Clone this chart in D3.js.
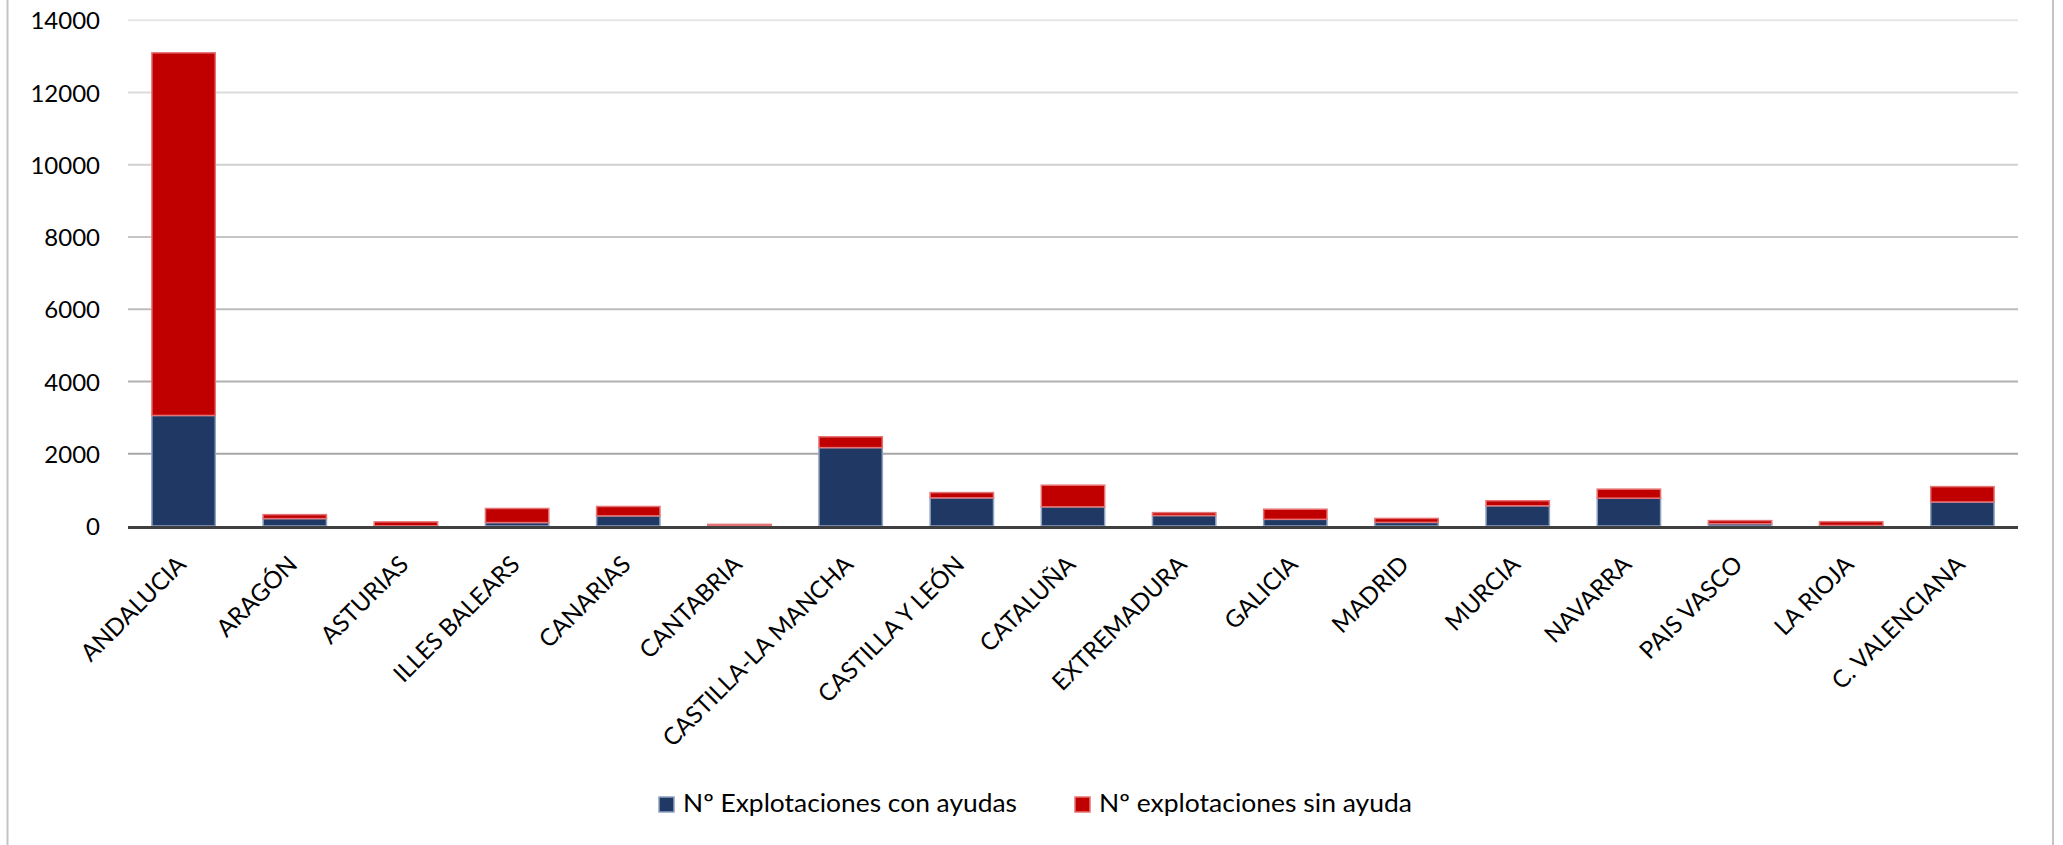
<!DOCTYPE html>
<html>
<head>
<meta charset="utf-8">
<script src="https://cdn.jsdelivr.net/npm/d3@7"></script>
<style>
  html, body { margin: 0; padding: 0; background: #fff; }
  svg { display: block; }
  text { font-family: Lato, "Open Sans", sans-serif; fill: #000; }
</style>
</head>
<body>
<svg id="chart" width="2063" height="845"></svg>
<script>
const categories = ["ANDALUCIA","ARAGÓN","ASTURIAS","ILLES BALEARS","CANARIAS","CANTABRIA","CASTILLA-LA MANCHA","CASTILLA Y LEÓN","CATALUÑA","EXTREMADURA","GALICIA","MADRID","MURCIA","NAVARRA","PAIS VASCO","LA RIOJA","C. VALENCIANA"];
const conAyudas = [3060, 205, 5, 95, 280, 10, 2170, 780, 530, 290, 185, 100, 560, 770, 65, 15, 665];
const sinAyuda  = [10040, 110, 110, 390, 260, 35, 300, 145, 600, 80, 280, 110, 140, 250, 85, 105, 425];
const seriesNames = ["Nº Explotaciones con ayudas", "Nº explotaciones sin ayuda"];
const yTicks = [0, 2000, 4000, 6000, 8000, 10000, 12000, 14000];

const W = 2063, H = 845;
const plot = { left: 128, right: 2018, top: 20.3, bottom: 526 };
const svg = d3.select("#chart");

svg.append("rect").attr("width", W).attr("height", H).attr("fill", "#fff");
// outer frame
svg.append("line").attr("x1", 7.5).attr("x2", 7.5).attr("y1", 0).attr("y2", H).attr("stroke", "#c4c4c4").attr("stroke-width", 2);
svg.append("line").attr("x1", 2053).attr("x2", 2053).attr("y1", 0).attr("y2", H).attr("stroke", "#c4c4c4").attr("stroke-width", 2);

const x = d3.scaleBand().domain(categories).range([plot.left, plot.right]).paddingInner(0.43).paddingOuter(0.215);
const y = d3.scaleLinear().domain([0, 14000]).range([plot.bottom, plot.top]);
const gridColor = d3.scaleLinear().domain([0, 14000]).range(["#9c9c9c", "#e6e6e6"]);

// gridlines
svg.append("g").selectAll("line").data(yTicks.filter(d => d > 0)).join("line")
  .attr("x1", plot.left).attr("x2", plot.right)
  .attr("y1", d => y(d)).attr("y2", d => y(d))
  .attr("stroke", d => gridColor(d)).attr("stroke-width", 2);

// y axis labels
const yAxis = d3.axisLeft(y).tickValues(yTicks).tickSize(0).tickPadding(0).tickFormat(d3.format("d"));
const gy = svg.append("g").attr("transform", `translate(100,0)`).call(yAxis);
gy.select(".domain").remove();
gy.selectAll("text").attr("font-size", 24).attr("font-family", "Lato, 'Open Sans', sans-serif").attr("fill", "#000").attr("dy", "0.36em");

// stacked bars
const rows = categories.map((c, i) => ({ cat: c, con: conAyudas[i], sin: sinAyuda[i] }));
const stack = d3.stack().keys(["con", "sin"])(rows);
const fills = ["#203864", "#c00000"];
const strokes = ["#8ea2c0", "#e57373"];

svg.append("g").selectAll("g").data(stack).join("g")
  .attr("fill", (d, i) => fills[i]).attr("stroke", (d, i) => strokes[i]).attr("stroke-width", 1.5)
  .selectAll("rect").data(d => d).join("rect")
  .attr("x", d => x(d.data.cat))
  .attr("width", x.bandwidth())
  .attr("y", d => y(d[1]))
  .attr("height", d => Math.max(0, y(d[0]) - y(d[1])));

// baseline axis
svg.append("line").attr("x1", plot.left).attr("x2", plot.right)
  .attr("y1", plot.bottom + 1.5).attr("y2", plot.bottom + 1.5)
  .attr("stroke", "#404040").attr("stroke-width", 3.2);

// category labels
svg.append("g").selectAll("text").data(categories).join("text")
  .attr("transform", d => `translate(${x(d) + x.bandwidth() / 2 + 4},566) rotate(-45)`)
  .attr("text-anchor", "end")
  .attr("font-size", 24)
  .text(d => d);

// legend
const legendItems = [{ x: 659, name: seriesNames[0], w: 334 }, { x: 1075, name: seriesNames[1], w: 313 }];
const lg = svg.append("g").selectAll("g").data(legendItems).join("g");
lg.append("rect").attr("x", d => d.x).attr("y", 797).attr("width", 15).attr("height", 15)
  .attr("fill", (d, i) => fills[i]).attr("stroke", (d, i) => strokes[i]).attr("stroke-width", 1.5);
lg.append("text").attr("x", d => d.x + 24).attr("y", 812).attr("font-size", 25)
  .attr("textLength", d => d.w).attr("lengthAdjust", "spacingAndGlyphs").text(d => d.name);
</script>
</body>
</html>
